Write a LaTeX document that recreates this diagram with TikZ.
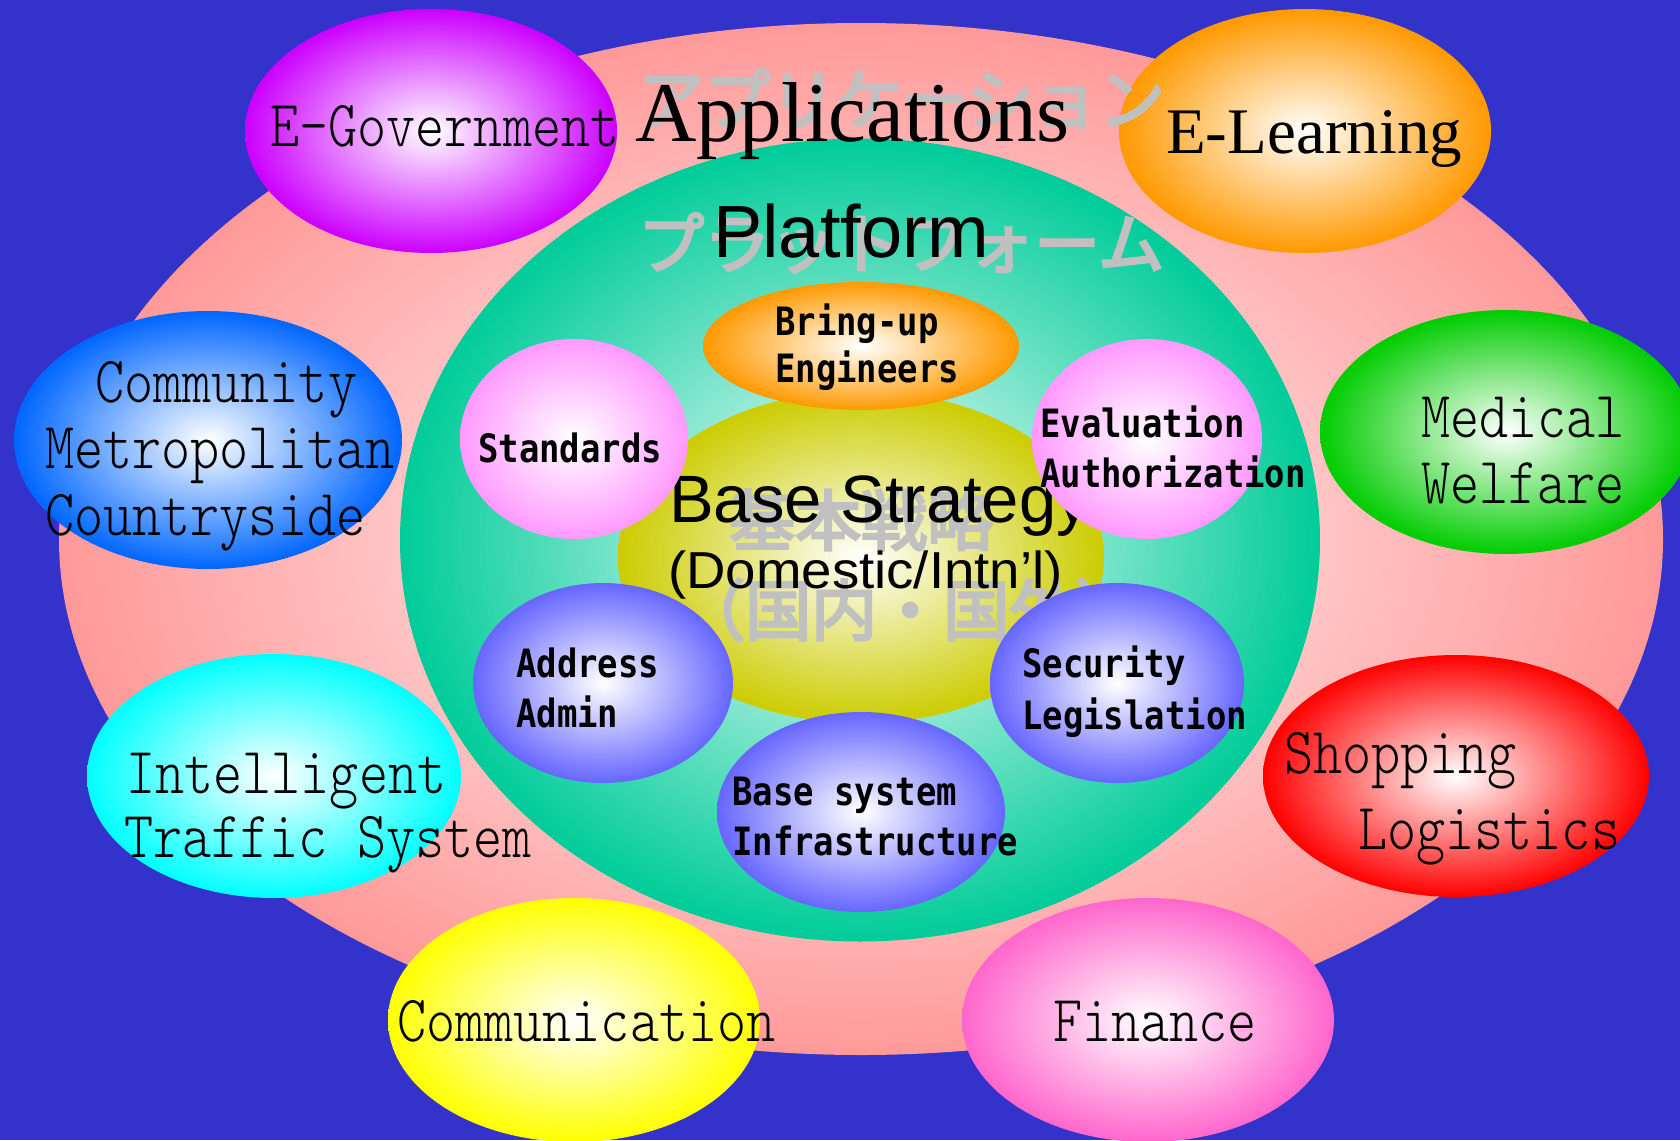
\documentclass[tikz,border=0pt]{standalone}
\usepackage{fontspec}
\usetikzlibrary{shapes.geometric}
\newfontfamily\outerfont[FakeStretch=0.84]{Latin Modern Mono Light}
\newfontfamily\innerfont[FakeStretch=0.87]{DejaVu Sans Mono}
\newfontfamily\serifA{Liberation Serif}
\newfontfamily\sansA{Liberation Sans}
\newfontfamily\sansB[FakeStretch=1.05]{Liberation Sans}
\newfontfamily\jpA[FakeBold=4]{Noto Sans CJK JP}
\definecolor{bgblue}{HTML}{3333CC}
\definecolor{pinkA}{HTML}{FF9999}
\definecolor{greenA}{HTML}{00CC99}
\definecolor{yellowA}{HTML}{CCCC00}
\definecolor{orangeA}{HTML}{FF9900}
\definecolor{pinkB}{HTML}{FF99FF}
\definecolor{blueB}{HTML}{6666FF}
\definecolor{purpleC}{HTML}{CC00FF}
\definecolor{blueC}{HTML}{0066FF}
\definecolor{greenC}{HTML}{00CC00}
\definecolor{cyanC}{HTML}{00FFFF}
\definecolor{redC}{HTML}{FF0000}
\definecolor{yellowC}{HTML}{FFFF00}
\definecolor{pinkC}{HTML}{FF66CC}
\definecolor{jpgray}{HTML}{C0C0C0}
\begin{document}
\begin{tikzpicture}[x=1pt,y=-1pt,
  ell/.style={ellipse, draw=none, inner sep=0pt, outer sep=0pt, inner color=white},
  outerlbl/.style={anchor=base west, inner sep=0pt, font=\outerfont\fontsize{66}{66}\selectfont},
  innerlbl/.style={anchor=base west, inner sep=0pt, font=\innerfont\bfseries\fontsize{39}{39}\selectfont},
  jplbl/.style={anchor=base west, inner sep=0pt, text=jpgray, font=\jpA\fontsize{66}{66}\selectfont},
  titlelbl/.style={anchor=base west, inner sep=0pt}
]
\useasboundingbox (0,0) rectangle (1680,1140);
\clip (0,0) rectangle (1680,1140);
\fill[bgblue] (0,0) rectangle (1680,1140);

% big applications ellipse
\node[ell, minimum width=1604pt, minimum height=1032pt, outer color=pinkA] (apps) at (861,539) {};

% outer application ellipses
\node[ell, minimum width=372pt, minimum height=244pt, outer color=purpleC] (egovE) at (431,131) {};
\node[ell, minimum width=372pt, minimum height=244pt, outer color=orangeA] (elearnE) at (1305,131) {};
\node[ell, minimum width=388pt, minimum height=258pt, outer color=blueC] (commE) at (208,440) {};
\node[ell, minimum width=372pt, minimum height=244pt, outer color=greenC] (medE) at (1506,432) {};
\node[ell, minimum width=374pt, minimum height=244pt, outer color=cyanC] (itsE) at (274,776) {};
\node[ell, minimum width=386pt, minimum height=242pt, outer color=redC] (shopE) at (1456,776) {};
\node[ell, minimum width=372pt, minimum height=244pt, outer color=yellowC] (comE) at (574,1020) {};
\node[ell, minimum width=372pt, minimum height=244pt, outer color=pinkC] (finE) at (1148,1020) {};

% platform and base strategy
\node[ell, minimum width=920pt, minimum height=803pt, outer color=greenA] (plat) at (860,540) {};
\node[ell, minimum width=486pt, minimum height=332pt, outer color=yellowA] (base) at (861,557) {};

% Japanese grey captions
\node[jplbl] (jp1) at (638,124) {アプリケーション};
\node[jplbl] (jp2) at (638,268) {プラットフォーム};
\node[jplbl] (jp3) at (729,545) {基本戦略};
\node[jplbl] (jp4) at (679,635) {（国内・国外）};

% English captions
\node[titlelbl, font=\serifA\fontsize{85}{85}\selectfont] (appsT) at (635,141) {Applications};
\node[titlelbl, font=\sansA\fontsize{74}{74}\selectfont] (platT) at (713,257) {Platform};
\node[titlelbl, font=\sansA\fontsize{67}{67}\selectfont] (baseT1) at (669,522) {Base Strategy};
\node[titlelbl, font=\sansB\fontsize{52}{52}\selectfont] (baseT2) at (668,588) {(Domestic/Intn’l)};

% inner platform ellipses
\node[ell, minimum width=316pt, minimum height=128pt, outer color=orangeA] (bringE) at (861,346) {};
\node[ell, minimum width=228pt, minimum height=200pt, outer color=pinkB] (stdE) at (574,439) {};
\node[ell, minimum width=230pt, minimum height=200pt, outer color=pinkB] (evalE) at (1147,439) {};
\node[ell, minimum width=260pt, minimum height=200pt, outer color=blueB] (addrE) at (603,683) {};
\node[ell, minimum width=254pt, minimum height=200pt, outer color=blueB] (secE) at (1117,683) {};
\node[ell, minimum width=288pt, minimum height=200pt, outer color=blueB] (infraE) at (861,812) {};

% inner labels
\node[innerlbl] (bring1) at (775,335) {Bring-up};
\node[innerlbl] (bring2) at (775,382) {Engineers};
\node[innerlbl] (std1) at (478,462) {Standards};
\node[innerlbl] (eval1) at (1040,437) {Evaluation};
\node[innerlbl] (eval2) at (1040,487) {Authorization};
\node[innerlbl] (addr1) at (516,677) {Address};
\node[innerlbl] (addr2) at (516,727) {Admin};
\node[innerlbl] (sec1) at (1022,677) {Security};
\node[innerlbl] (sec2) at (1022,729) {Legislation};
\node[innerlbl] (infra1) at (732,805) {Base system};
\node[innerlbl] (infra2) at (732,855) {Infrastructure};

% outer labels
\node[outerlbl] (egov1) at (270,146) {E-Government};
\node[titlelbl, font=\serifA\fontsize{65}{65}\selectfont] (elearn1) at (1166,153) {E-Learning};
\node[outerlbl] (comm1) at (95,402) {Community};
\node[outerlbl] (comm2) at (45,468) {Metropolitan};
\node[outerlbl] (comm3) at (45,535) {Countryside};
\node[outerlbl] (med1) at (1421,437) {Medical};
\node[outerlbl] (med2) at (1421,503) {Welfare};
\node[outerlbl] (its1) at (126,793) {Intelligent};
\node[outerlbl] (its2) at (124,857) {Traffic System};
\node[outerlbl] (shop1) at (1284,773) {Shopping};
\node[outerlbl] (shop2) at (1358,849) {Logistics};
\node[outerlbl] (com1) at (397,1041) {Communication};
\node[outerlbl] (fin1) at (1053,1041) {Finance};
\end{tikzpicture}
\end{document}
